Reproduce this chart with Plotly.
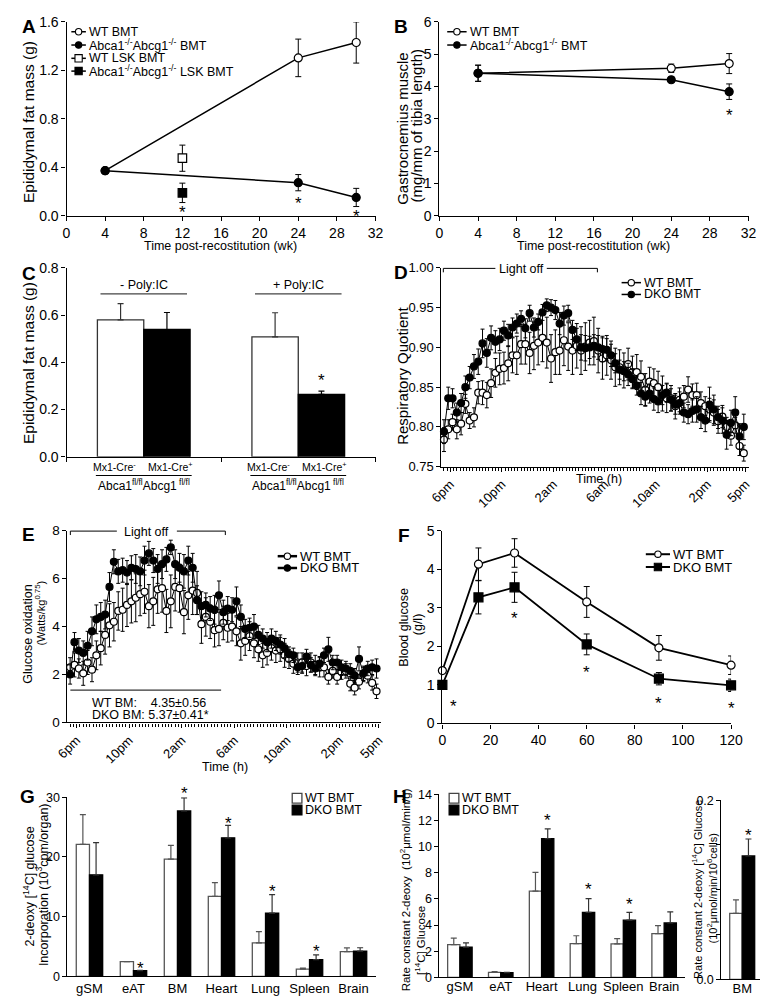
import plotly.graph_objects as go

W, H = 768, 997
FONT = "Liberation Sans, Arial, Helvetica, sans-serif"

# ---------------- data ----------------
# Panel A
A_weeks = [4, 24, 30]
A_wt_bmt = [0.372, 1.303, 1.430]
A_wt_bmt_err = [0.02, 0.155, 0.17]
A_dko_bmt = [0.372, 0.273, 0.151]
A_dko_bmt_err = [0.02, 0.067, 0.075]
A_lsk_weeks = [12]
A_wt_lsk = [0.475]
A_wt_lsk_err = [0.108]
A_dko_lsk = [0.189]
A_dko_lsk_err = [0.08]
A_star_weeks = [12, 24, 30]
A_star_y = [0.062, 0.13, 0.027]

# Panel B
B_weeks = [4, 24, 30]
B_wt = [4.41, 4.565, 4.71]
B_wt_err = [0.25, 0.13, 0.31]
B_dko = [4.41, 4.21, 3.84]
B_dko_err = [0.25, 0.08, 0.24]
B_star_weeks = [30]
B_star_y = [3.24]

# Panel C
C_treatments = ["- Poly:IC", "+ Poly:IC"]
C_genotypes = ["Mx1-Cre<sup>-</sup>", "Mx1-Cre<sup>+</sup>"]
C_cre_neg = [0.580, 0.508]
C_cre_neg_err = [0.069, 0.102]
C_cre_pos = [0.539, 0.264]
C_cre_pos_err = [0.072, 0.014]
C_star_treatments = ["+ Poly:IC"]
C_star_y = [0.339]

# Panels D and E: 20-min sampling, hours relative to 6pm
TIME_TICKS = [0, 4, 8, 12, 16, 20, 23]
TIME_LABELS = ["6pm", "10pm", "2am", "6am", "10am", "2pm", "5pm"]
hours = [round(-0.5 + i / 3, 3) for i in range(71)]

D_dko = [0.794, 0.836, 0.836, 0.818, 0.830, 0.850, 0.862, 0.876, 0.882, 0.905,
         0.893, 0.912, 0.907, 0.910, 0.921, 0.915, 0.925, 0.930, 0.936, 0.924,
         0.943, 0.925, 0.932, 0.944, 0.953, 0.950, 0.947, 0.930, 0.940, 0.943,
         0.922, 0.910, 0.900, 0.899, 0.900, 0.902, 0.900, 0.898, 0.897, 0.890,
         0.880, 0.872, 0.870, 0.866, 0.860, 0.852, 0.842, 0.838, 0.842, 0.835,
         0.832, 0.840, 0.843, 0.834, 0.828, 0.830, 0.818, 0.816, 0.820, 0.822,
         0.812, 0.808, 0.828, 0.822, 0.812, 0.808, 0.790, 0.805, 0.818, 0.788,
         0.800]
D_dko_err = [0.015, 0.014, 0.012, 0.012, 0.012, 0.014, 0.014, 0.015, 0.016, 0.018,
             0.018, 0.015, 0.014, 0.014, 0.012, 0.014, 0.012, 0.012, 0.010, 0.012,
             0.010, 0.012, 0.010, 0.010, 0.008, 0.010, 0.012, 0.014, 0.012, 0.010,
             0.012, 0.014, 0.016, 0.016, 0.014, 0.014, 0.015, 0.016, 0.014, 0.014,
             0.012, 0.012, 0.012, 0.014, 0.012, 0.012, 0.014, 0.012, 0.012, 0.014,
             0.014, 0.012, 0.012, 0.014, 0.012, 0.014, 0.012, 0.012, 0.014, 0.016,
             0.014, 0.014, 0.022, 0.018, 0.014, 0.016, 0.018, 0.016, 0.020, 0.016,
             0.016]
D_wt = [0.784, 0.797, 0.806, 0.797, 0.804, 0.829, 0.808, 0.812, 0.843, 0.843,
        0.840, 0.855, 0.868, 0.873, 0.874, 0.880, 0.890, 0.890, 0.904, 0.904,
        0.893, 0.902, 0.906, 0.912, 0.906, 0.886, 0.894, 0.896, 0.909, 0.901,
        0.896, 0.902, 0.896, 0.901, 0.906, 0.908, 0.896, 0.886, 0.890, 0.884,
        0.875, 0.875, 0.871, 0.879, 0.869, 0.869, 0.863, 0.847, 0.857, 0.855,
        0.850, 0.842, 0.836, 0.836, 0.826, 0.834, 0.838, 0.847, 0.840, 0.840,
        0.830, 0.826, 0.822, 0.818, 0.807, 0.813, 0.800, 0.789, 0.802, 0.776,
        0.767]
D_wt_err = [0.015, 0.012, 0.010, 0.012, 0.014, 0.012, 0.010, 0.012, 0.014, 0.015,
            0.016, 0.018, 0.018, 0.020, 0.020, 0.022, 0.022, 0.024, 0.025, 0.025,
            0.026, 0.030, 0.028, 0.030, 0.032, 0.030, 0.028, 0.030, 0.032, 0.030,
            0.030, 0.028, 0.030, 0.030, 0.028, 0.030, 0.028, 0.026, 0.025, 0.024,
            0.024, 0.022, 0.022, 0.020, 0.020, 0.022, 0.020, 0.020, 0.018, 0.018,
            0.020, 0.022, 0.018, 0.016, 0.016, 0.015, 0.014, 0.016, 0.014, 0.015,
            0.014, 0.012, 0.014, 0.016, 0.015, 0.014, 0.012, 0.012, 0.010, 0.012,
            0.010]

E_dko = [2.0, 3.35, 3.0, 2.9, 3.2, 3.8, 4.3, 4.4, 4.5, 5.65,
         6.7, 6.3, 6.35, 6.25, 6.45, 6.4, 6.3, 6.75, 7.05, 6.75,
         6.4, 6.6, 6.8, 7.3, 6.6, 6.45, 6.3, 6.75, 6.45, 5.1,
         4.85, 4.9, 4.75, 4.7, 5.3, 4.6, 4.75, 4.7, 5.05, 4.4,
         3.9, 3.95, 4.0, 3.65, 3.5, 3.35, 3.5, 3.4, 3.25, 3.1,
         2.85, 2.8, 2.3, 2.35, 2.75, 2.4, 2.25, 2.45, 2.8, 3.05,
         2.5, 2.5, 2.3, 2.25, 2.15, 1.95, 2.65, 2.05, 2.25, 2.3,
         2.25]
E_dko_err = [0.4, 0.4, 0.5, 0.5, 0.6, 0.6, 0.6, 0.6, 0.6, 0.6,
             0.5, 0.5, 0.5, 0.5, 0.5, 0.6, 0.6, 0.6, 0.5, 0.5,
             0.6, 0.6, 0.5, 0.3, 0.6, 0.6, 0.7, 0.6, 0.6, 0.6,
             0.6, 0.5, 0.5, 0.6, 0.6, 0.5, 0.5, 0.5, 0.6, 0.5,
             0.4, 0.4, 0.5, 0.4, 0.4, 0.4, 0.4, 0.4, 0.4, 0.4,
             0.3, 0.3, 0.3, 0.3, 0.3, 0.3, 0.3, 0.3, 0.3, 0.5,
             0.3, 0.3, 0.3, 0.3, 0.3, 0.3, 0.5, 0.3, 0.3, 0.3,
             0.4]
E_wt = [2.3, 2.4, 2.25, 2.05, 2.5, 2.2, 2.8, 3.1, 3.65, 4.05,
        4.2, 4.65, 4.7, 4.9, 5.05, 5.2, 5.35, 5.45, 4.85, 5.05,
        5.55, 5.6, 4.65, 5.05, 5.65, 5.6, 4.6, 5.3, 5.5, 5.4,
        4.1, 4.4, 4.2, 3.85, 3.9, 4.15, 3.95, 4.0, 3.8, 3.3,
        3.4, 3.6, 3.3, 3.05, 2.8, 2.9, 3.1, 3.0, 3.05, 2.8,
        2.65, 2.45, 2.5, 2.5, 2.35, 2.5, 2.4, 2.3, 2.3, 1.9,
        2.15, 1.9, 2.1, 2.15, 1.62, 1.45, 1.7, 2.0, 1.95, 1.65,
        1.3]
E_wt_err = [0.4, 0.5, 0.4, 0.5, 0.5, 0.5, 0.6, 0.7, 0.8, 0.9,
            0.8, 0.8, 0.9, 0.9, 0.9, 1.0, 0.9, 0.9, 0.9, 1.0,
            1.0, 1.0, 0.9, 1.1, 1.0, 1.0, 0.9, 1.0, 1.0, 0.9,
            0.8, 0.8, 0.7, 0.7, 0.7, 0.7, 0.6, 0.6, 0.6, 0.7,
            0.6, 0.6, 0.6, 0.5, 0.5, 0.5, 0.5, 0.5, 0.5, 0.5,
            0.4, 0.4, 0.4, 0.4, 0.4, 0.4, 0.4, 0.4, 0.4, 0.3,
            0.3, 0.3, 0.3, 0.3, 0.3, 0.3, 0.3, 0.3, 0.3, 0.3,
            0.3]
for arr in (D_dko, D_dko_err, D_wt, D_wt_err, E_dko, E_dko_err, E_wt, E_wt_err):
    assert len(arr) == len(hours), len(arr)

# Panel F
F_minutes = [0, 15, 30, 60, 90, 120]
F_wt = [1.37, 4.13, 4.42, 3.15, 1.96, 1.51]
F_wt_err = [0.05, 0.42, 0.37, 0.40, 0.32, 0.24]
F_dko = [1.00, 3.27, 3.53, 2.05, 1.16, 0.99]
F_dko_err = [0.10, 0.43, 0.39, 0.27, 0.16, 0.16]
F_star_minutes = [4.5, 30, 60, 90, 120]
F_star_y = [0.55, 2.83, 1.43, 0.62, 0.49]

# Panel G
G_organs = ["gSM", "eAT", "BM", "Heart", "Lung", "Spleen", "Brain"]
G_wt = [22.1, 2.48, 19.65, 13.4, 5.6, 1.2, 4.13]
G_wt_err = [5.0, 0.0, 2.3, 2.3, 1.9, 0.2, 0.65]
G_dko = [17.0, 0.94, 27.7, 23.2, 10.6, 2.8, 4.24]
G_dko_err = [5.4, 0.05, 2.2, 2.1, 3.1, 0.8, 0.55]
G_star_organs = ["eAT", "BM", "Heart", "Lung", "Spleen"]
G_star_y = [2.0, 31.3, 26.3, 14.8, 4.8]

# Panel H
H_organs = ["gSM", "eAT", "Heart", "Lung", "Spleen", "Brain"]
H_wt = [2.5, 0.38, 6.6, 2.58, 2.56, 3.34]
H_wt_err = [0.5, 0.05, 1.43, 0.6, 0.4, 0.62]
H_dko = [2.3, 0.35, 10.6, 4.97, 4.37, 4.16]
H_dko_err = [0.33, 0.04, 0.75, 1.05, 0.6, 0.85]
H_star_organs = ["Heart", "Lung", "Spleen"]
H_star_y = [12.3, 7.0, 5.9]
H_bm = ["BM"]
H_bm_wt = [0.0736]
H_bm_wt_err = [0.015]
H_bm_dko = [0.1377]
H_bm_dko_err = [0.019]
H_bm_star_y = [0.165]

# ---------------- helpers ----------------
fig = go.Figure()
shapes = []
ann = []
BARGAP = 0.4
DKO_OFFSET = (1 - BARGAP) / 4   # centre of the second bar within a group


def P(x):
    return x / W


def Q(y):
    return 1 - y / H


def axn(n):
    return ("x" if n == 1 else f"x{n}"), ("y" if n == 1 else f"y{n}")


def text(x, y, s, size=13, xref="paper", yref="paper", xanchor="center",
         yanchor="middle", angle=0, yshift=0):
    if xref == "paper":
        x = P(x)
    if yref == "paper":
        y = Q(y)
    ann.append(dict(x=x, y=y, xref=xref, yref=yref, text=s, showarrow=False,
                    xanchor=xanchor, yanchor=yanchor, textangle=angle,
                    yshift=yshift,
                    font=dict(family=FONT, size=size, color="black")))


def series(n, x, y, err, symbol, fill, size, lw=1.5, errw=3, mlw=1.2):
    xa, ya = axn(n)
    fig.add_trace(go.Scatter(
        x=x, y=y, xaxis=xa, yaxis=ya, mode="lines+markers",
        line=dict(color="black", width=lw),
        marker=dict(symbol=symbol, size=size, color=fill,
                    line=dict(color="black", width=mlw)),
        error_y=dict(type="data", array=err, visible=True, color="black",
                     thickness=1, width=errw),
        showlegend=False, cliponaxis=False, hoverinfo="skip"))


def stars(n, xs, ys, size=17, ymax=None, ppu=0.0):
    # ymax/ppu: axis top and pixels per unit, so an asterisk drawn above the
    # axis range is anchored at the top and shifted up by the remaining pixels
    xa, ya = axn(n)
    for x, y in zip(xs, ys):
        shift = -4
        if ymax is not None and y > ymax:
            shift += (y - ymax) * ppu
            y = ymax
        text(x, y, "*", size=size, xref=xa, yref=ya, yshift=shift)


def bar_stars(n, cats, star_cats, ys, size=17, **kw):
    # asterisks sit over the DKO (second) bar of each group
    stars(n, [cats.index(c) + DKO_OFFSET for c in star_cats], ys, size, **kw)


def bars(n, x, y, err, fill, outline, errcolor):
    xa, ya = axn(n)
    fig.add_trace(go.Bar(
        x=x, y=y, xaxis=xa, yaxis=ya,
        marker=dict(color=fill, line=dict(color=outline, width=1.3)),
        error_y=dict(type="data", symmetric=False, array=err,
                     arrayminus=[0] * len(err), color=errcolor,
                     thickness=1.2, width=3),
        showlegend=False, hoverinfo="skip"))


def leg_line(x0, x1, yc, symbol, fill, size, label, fs=12.5, lw=1.5):
    shapes.append(dict(type="line", xref="paper", yref="paper", x0=P(x0),
                       x1=P(x1), y0=Q(yc), y1=Q(yc),
                       line=dict(color="black", width=lw)))
    xc = (x0 + x1) / 2
    r = size / 2
    shapes.append(dict(type="circle" if symbol == "circle" else "rect",
                       xref="paper", yref="paper", x0=P(xc - r), x1=P(xc + r),
                       y0=Q(yc + r), y1=Q(yc - r), fillcolor=fill,
                       line=dict(color="black", width=1.1)))
    text(x1 + 1, yc, label, size=fs, xanchor="left")


def leg_box(x0, yc, fill, outline, label, fs=12.5, s=10):
    shapes.append(dict(type="rect", xref="paper", yref="paper", x0=P(x0),
                       x1=P(x0 + s), y0=Q(yc + s / 2), y1=Q(yc - s / 2),
                       fillcolor=fill, line=dict(color=outline, width=1.3)))
    text(x0 + s + 1, yc, label, size=fs, xanchor="left")


def axstyle(dom, fs=14, **kw):
    d = dict(domain=dom, showline=True, linecolor="black", linewidth=1.2,
             ticks="outside", ticklen=4, tickwidth=1, tickcolor="black",
             showgrid=False, zeroline=False, fixedrange=True,
             tickfont=dict(family=FONT, size=fs, color="black"))
    d.update(kw)
    return d


def xd(a, b):
    return [a / W, b / W]


def yd(a, b):
    return [1 - b / H, 1 - a / H]


KO = "Abca1<sup>-/-</sup>Abcg1<sup>-/-</sup>"

# ---------------- Panel A ----------------
series(1, A_weeks, A_wt_bmt, A_wt_bmt_err, "circle", "white", 8)
series(1, A_weeks, A_dko_bmt, A_dko_bmt_err, "circle", "black", 8)
series(1, A_lsk_weeks, A_wt_lsk, A_wt_lsk_err, "square", "white", 8.5)
series(1, A_lsk_weeks, A_dko_lsk, A_dko_lsk_err, "square", "black", 8.5)
stars(1, A_star_weeks, A_star_y)
leg_line(53, 68, 16, "circle", "white", 6.5, "WT BMT")
leg_line(53, 68, 29.5, "circle", "black", 6.5, KO + " BMT")
leg_line(53, 68, 43, "square", "white", 7.5, "WT LSK BMT")
leg_line(53, 68, 56, "square", "black", 7.5, KO + " LSK BMT")

# ---------------- Panel B ----------------
series(2, B_weeks, B_wt, B_wt_err, "circle", "white", 8)
series(2, B_weeks, B_dko, B_dko_err, "circle", "black", 8)
stars(2, B_star_weeks, B_star_y)
leg_line(441, 461, 16, "circle", "white", 6.5, "WT BMT")
leg_line(441, 461, 29.5, "circle", "black", 6.5, KO + " BMT")

# ---------------- Panel C ----------------
bars(3, C_treatments, C_cre_neg, C_cre_neg_err, "white", "#333333", "#333333")
bars(3, C_treatments, C_cre_pos, C_cre_pos_err, "black", "black", "black")
bar_stars(3, C_treatments, C_star_treatments, C_star_y)
for gi, tr in enumerate(C_treatments):
    shapes.append(dict(type="line", xref="x3", yref="y3", x0=gi - 0.28,
                       x1=gi + 0.28, y0=0.69, y1=0.69,
                       line=dict(color="#444444", width=1.2)))
    text(gi, 0.728, tr, size=12.5, xref="x3", yref="y3")
    for k, g in enumerate(C_genotypes):
        text(gi + (-0.19 if k == 0 else 0.17), 458, g, size=10.5, xref="x3")
    shapes.append(dict(type="line", xref="x3", yref="paper", x0=gi - 0.31,
                       x1=gi + 0.31, y0=Q(467), y1=Q(467),
                       line=dict(color="black", width=1)))
    text(gi, 477, "Abca1<sup>fl/fl</sup>Abcg1<sup> fl/fl</sup>", size=12,
         xref="x3")

# ---------------- Panel D ----------------
series(4, hours, D_wt, D_wt_err, "circle", "white", 7, lw=1, errw=2)
series(4, hours, D_dko, D_dko_err, "circle", "black", 7, lw=1, errw=2)
leg_line(621, 641, 271, "circle", "white", 6.5, "WT BMT", fs=12.5)
leg_line(621, 641, 283, "circle", "black", 6.5, "DKO BMT", fs=12.5)
for (a, b) in [(-0.55, 3.5), (7.5, 11.44)]:
    shapes.append(dict(type="line", xref="x4", yref="paper", x0=a, x1=b,
                       y0=Q(256.5), y1=Q(256.5),
                       line=dict(color="black", width=1)))
for a in (-0.55, 11.44):
    shapes.append(dict(type="line", xref="x4", yref="paper", x0=a, x1=a,
                       y0=Q(256.5), y1=Q(260.5),
                       line=dict(color="black", width=1)))
text(5.5, 257, "Light off", size=12.5, xref="x4")

# ---------------- Panel E ----------------
series(5, hours, E_wt, E_wt_err, "circle", "white", 7, lw=1, errw=2)
series(5, hours, E_dko, E_dko_err, "circle", "black", 7, lw=1, errw=2)
leg_line(266, 286, 549, "circle", "white", 6.5, "WT BMT", fs=13, lw=2.5)
leg_line(266, 286, 561, "circle", "black", 6.5, "DKO BMT", fs=13, lw=2.5)
for (a, b) in [(-0.48, 3.06), (7.63, 11.32)]:
    shapes.append(dict(type="line", xref="x5", yref="paper", x0=a, x1=b,
                       y0=Q(523.5), y1=Q(523.5),
                       line=dict(color="black", width=1)))
for a in (-0.48, 11.32):
    shapes.append(dict(type="line", xref="x5", yref="paper", x0=a, x1=a,
                       y0=Q(523.5), y1=Q(527.5),
                       line=dict(color="black", width=1)))
text(5.35, 524, "Light off", size=12.5, xref="x5")
shapes.append(dict(type="line", xref="x5", yref="y5", x0=-0.48, x1=11.0,
                   y0=1.35, y1=1.35, line=dict(color="black", width=1)))
text(1.0, 698, "WT BM:\u00a0\u00a0\u00a0\u00a04.35±0.56", size=12.5,
     xref="x5", xanchor="left")
text(1.0, 710, "DKO BM: 5.37±0.41*", size=12.5, xref="x5", xanchor="left")

# ---------------- Panel F ----------------
series(6, F_minutes, F_wt, F_wt_err, "circle", "white", 8, lw=1.8)
series(6, F_minutes, F_dko, F_dko_err, "square", "black", 9, lw=1.8)
stars(6, F_star_minutes, F_star_y)
leg_line(646, 671, 547, "circle", "white", 6.5, "WT BMT", fs=13, lw=2)
leg_line(646, 671, 560, "square", "black", 7.5, "DKO BMT", fs=13, lw=2)

# ---------------- Panel G ----------------
bars(7, G_organs, G_wt, G_wt_err, "white", "#555555", "#555555")
bars(7, G_organs, G_dko, G_dko_err, "black", "black", "#333333")
bar_stars(7, G_organs, G_star_organs, G_star_y, ymax=30, ppu=182 / 30)
leg_box(281, 795, "white", "#444444", "WT BMT")
leg_box(281, 807, "black", "black", "DKO BMT")

# ---------------- Panel H ----------------
bars(8, H_organs, H_wt, H_wt_err, "white", "#555555", "#555555")
bars(8, H_organs, H_dko, H_dko_err, "black", "black", "#333333")
bar_stars(8, H_organs, H_star_organs, H_star_y)
bars(9, H_bm, H_bm_wt, H_bm_wt_err, "white", "#555555", "#555555")
bars(9, H_bm, H_bm_dko, H_bm_dko_err, "black", "black", "#333333")
bar_stars(9, H_bm, H_bm, H_bm_star_y)
leg_box(443, 795, "white", "#444444", "WT BMT")
leg_box(443, 807, "black", "black", "DKO BMT")

# ---------------- axis titles (placed text) ----------------
text(9, 108, "Epididymal fat mass (g)", size=15.5, angle=-90)
text(207, 234, "Time post-recostitution (wk)", size=12.5)
text(394, 114, "Gastrocnemius muscle", size=15, angle=-90)
text(409, 112, "(mg/mm of tibia length)", size=15, angle=-90)
text(592, 234, "Time post-recostitution (wk)", size=12.5)
text(9, 353, "Epididymal fat mass (g)", size=15.5, angle=-90)
text(394, 366, "Respiratory Quotient", size=15, angle=-90)
text(598, 471, "Time (h)", size=12.5)
text(8, 628, "Glucose oxidation", size=12.5, angle=-90)
text(21, 607, "(Watts/kg<sup>0.75</sup>)", size=11, angle=-90)
text(212, 763, "Time (h)", size=12.5)
text(396, 621, "Blood glucose", size=12.5, angle=-90)
text(411, 618, "(g/l)", size=12.5, angle=-90)
text(9, 885, "2-deoxy [<sup>14</sup>C] glucose", size=12.5, angle=-90)
text(23, 883, "Incorporation (10<sup>3</sup>cpm/organ)", size=12.5, angle=-90)
text(397, 888, "Rate constant 2-deoxy\u00a0\u00a0(10<sup>2</sup>μmol/min/g)",
     size=11.5, angle=-90)
text(413, 940, "[<sup>14</sup>C] Glucose", size=11.5, angle=-90)
text(699, 888, "Rate constant 2-deoxy [<sup>14</sup>C] Glucose", size=11,
     angle=-90)
text(714, 887, "(10<sup>2</sup>μmol/min/10<sup>6</sup>cells)", size=11,
     angle=-90)

# panel letters
for lab, x, y in [("A", 9, 11), ("B", 393, 11), ("C", 9, 262), ("D", 393, 261),
                  ("E", 9, 527), ("F", 396, 528), ("G", 8, 793), ("H", 392, 793)]:
    text(x, y, "<b>" + lab + "</b>", size=19)

# ---------------- layout ----------------
timex = dict(range=[-0.7, 23.2], tickmode="array", tickvals=TIME_TICKS,
             ticktext=TIME_LABELS, tickangle=-45,
             minor=dict(ticks="outside", ticklen=3, dtick=0.25, tick0=0,
                        tickcolor="black"))

fig.update_layout(
    width=W, height=H, margin=dict(l=0, r=0, t=0, b=0),
    paper_bgcolor="white", plot_bgcolor="white", showlegend=False,
    barmode="group", bargap=BARGAP, bargroupgap=0,
    font=dict(family=FONT, color="black"),
    xaxis=axstyle(xd(48, 367), range=[0, 32], dtick=4, tick0=0, anchor="y"),
    yaxis=axstyle(yd(6, 203), range=[0, 1.6], dtick=0.4, tickformat=".1f",
                  anchor="x"),
    xaxis2=axstyle(xd(433, 752), range=[0, 32], dtick=4, tick0=0, anchor="y2"),
    yaxis2=axstyle(yd(6, 203), range=[0, 6], dtick=1, anchor="x2"),
    xaxis3=axstyle(xd(48, 367), type="category", tickson="boundaries",
                   showticklabels=False, anchor="y3"),
    yaxis3=axstyle(yd(256, 448), range=[0, 0.8], dtick=0.2, tickformat=".1f",
                   anchor="x3"),
    xaxis4=axstyle(xd(435, 752), fs=13, anchor="y4", **timex),
    yaxis4=axstyle(yd(256, 458), fs=13, range=[0.75, 1.0], dtick=0.05,
                   tickformat=".2f", anchor="x4"),
    xaxis5=axstyle(xd(49, 373), fs=13, anchor="y5", **timex),
    yaxis5=axstyle(yd(523, 718), fs=13.5, range=[0, 8], dtick=2, anchor="x5"),
    xaxis6=axstyle(xd(436, 734), range=[0, 120], dtick=20, anchor="y6"),
    yaxis6=axstyle(yd(523, 719), range=[0, 5], dtick=1, anchor="x6"),
    xaxis7=axstyle(xd(49, 367), fs=13, type="category", ticks="", ticklen=0,
                   anchor="y7"),
    yaxis7=axstyle(yd(794, 976), fs=12.5, range=[0, 30], dtick=10, anchor="x7"),
    xaxis8=axstyle(xd(433, 686), fs=13, type="category", ticks="", ticklen=0,
                   ticklabelstandoff=-3, anchor="y8"),
    yaxis8=axstyle(yd(791, 977), fs=12.5, range=[0, 14], dtick=2, anchor="x8"),
    xaxis9=axstyle(xd(724, 767), fs=13, type="category", ticks="", ticklen=0,
                   ticklabelstandoff=-3, anchor="y9"),
    yaxis9=axstyle(yd(797, 979), fs=12.5, range=[0, 0.2], tickmode="array",
                   tickvals=[0, 0.2], ticktext=["0.0", "0.2"], anchor="x9",
                   minor=dict(ticks="outside", ticklen=4, dtick=0.05, tick0=0,
                              tickcolor="black")),
    shapes=shapes, annotations=ann,
)

fig.write_html("out.html")
